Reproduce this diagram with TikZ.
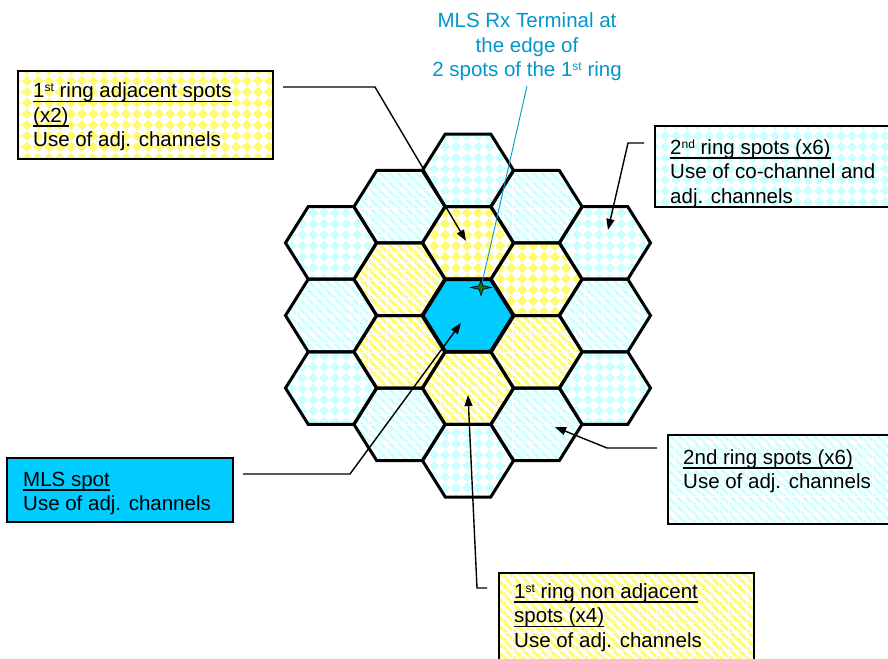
\documentclass[tikz,border=0pt]{standalone}
\usepackage{fontspec}
\setmainfont{Liberation Sans}
\usetikzlibrary{arrows.meta,patterns}

\definecolor{spotcyan}{RGB}{0,204,255}
\definecolor{palecyan}{RGB}{204,255,255}
\definecolor{paleyellow}{RGB}{255,250,110}
\definecolor{termblue}{RGB}{0,150,205}
\definecolor{stargreen}{RGB}{30,110,30}

% diagonal checkerboard (diamonds)
\pgfdeclarepatternformonly{diamonds}{\pgfqpoint{0pt}{0pt}}{\pgfqpoint{11pt}{11pt}}{\pgfqpoint{11pt}{11pt}}{%
  \pgfpathmoveto{\pgfqpoint{5.5pt}{0pt}}%
  \pgfpathlineto{\pgfqpoint{11pt}{5.5pt}}%
  \pgfpathlineto{\pgfqpoint{5.5pt}{11pt}}%
  \pgfpathlineto{\pgfqpoint{0pt}{5.5pt}}%
  \pgfpathclose
  \pgfusepath{fill}}
% wide stripes falling to the right
\pgfdeclarepatternformonly{slant}{\pgfqpoint{0pt}{0pt}}{\pgfqpoint{9pt}{9pt}}{\pgfqpoint{9pt}{9pt}}{%
  \pgfpathmoveto{\pgfqpoint{0pt}{0pt}}%
  \pgfpathlineto{\pgfqpoint{4.5pt}{0pt}}%
  \pgfpathlineto{\pgfqpoint{0pt}{4.5pt}}%
  \pgfpathclose
  \pgfpathmoveto{\pgfqpoint{9pt}{0pt}}%
  \pgfpathlineto{\pgfqpoint{9pt}{4.5pt}}%
  \pgfpathlineto{\pgfqpoint{4.5pt}{9pt}}%
  \pgfpathlineto{\pgfqpoint{0pt}{9pt}}%
  \pgfpathclose
  \pgfusepath{fill}}

\newcommand\myul[1]{\setbox0=\hbox{#1}\rlap{\rule[-4.5pt]{\wd0}{1.6pt}}\box0}
\newcommand\upidx[1]{\raisebox{6pt}{\fontsize{12}{12}\selectfont #1}}
\newcommand\firststrut{\rule{0pt}{17pt}}

\tikzset{
  ychk/.style={preaction={fill=white}, pattern=diamonds, pattern color=paleyellow},
  cchk/.style={preaction={fill=white}, pattern=diamonds, pattern color=palecyan},
  ystr/.style={preaction={fill=white}, pattern=slant, pattern color=paleyellow},
  cstr/.style={preaction={fill=white}, pattern=slant, pattern color=palecyan},
  mls/.style={fill=spotcyan},
  hexline/.style={draw=black, line width=3pt},
  infobox/.style={rectangle, draw=black, line width=1.5pt, inner sep=0pt, outer sep=0pt, anchor=north west},
  txt/.style={anchor=north west, inner sep=0pt, align=left, font=\fontsize{20.5}{24.5}\selectfont},
  conn/.style={draw=black, line width=1.4pt, -{Triangle[length=11pt,width=8pt]}},
}

\begin{document}
\begin{tikzpicture}[x=1pt, y=-1pt]
\useasboundingbox (0,0) rectangle (888,658);

% 19-spot hexagonal cluster: column / row offset / fill / name
\foreach \c/\r/\sty/\nm in {
   0/-2/cchk/hT, 0/-1/ychk/hN, 0/0/mls/hC, 0/1/ystr/hS, 0/2/cchk/hB,
   1/-1.5/cstr/hRa, 1/-0.5/ychk/hRb, 1/0.5/ystr/hRc, 1/1.5/cstr/hRd,
  -1/-1.5/cstr/hLa, -1/-0.5/ystr/hLb, -1/0.5/ystr/hLc, -1/1.5/cstr/hLd,
   2/-1/cchk/hRRa, 2/0/cstr/hRRb, 2/1/cchk/hRRc,
  -2/-1/cchk/hLLa, -2/0/cstr/hLLb, -2/1/cchk/hLLc}{
  \pgfmathsetmacro\hx{468+68.5*\c}
  \pgfmathsetmacro\hy{315.5+72.6*\r}
  \coordinate (\nm) at (\hx,\hy);
  \path[\sty, shift={(\hx,\hy)}] (-45.5,0) -- (-22.75,-36.3) -- (22.75,-36.3)
     -- (45.5,0) -- (22.75,36.3) -- (-22.75,36.3) -- cycle;
}
\foreach \nm in {hT,hN,hS,hB,hRa,hRb,hRc,hRd,hLa,hLb,hLc,hLd,hRRa,hRRb,hRRc,hLLa,hLLb,hLLc}{
  \draw[hexline, shift={(\nm)}] (-45.5,0) -- (-22.75,-36.3) -- (22.75,-36.3)
     -- (45.5,0) -- (22.75,36.3) -- (-22.75,36.3) -- cycle;
}
\draw[hexline, line width=3.8pt, shift={(hC)}] (-45.5,0) -- (-22.75,-36.3) -- (22.75,-36.3)
   -- (45.5,0) -- (22.75,36.3) -- (-22.75,36.3) -- cycle;

% legend boxes
\node[infobox, ychk, minimum width=255pt, minimum height=88pt] (b1) at (18,71) {};
\node[infobox, cchk, minimum width=245pt, minimum height=81pt] (b2) at (655,126) {};
\node[infobox, mls,  minimum width=226pt, minimum height=64pt] (b3) at (7,458) {};
\node[infobox, cstr, minimum width=235pt, minimum height=89pt] (b4) at (668,435) {};
\node[infobox, ystr, minimum width=255pt, minimum height=100pt] (b5) at (499,573) {};

\node[txt] (t1) at (33,80.7) {\firststrut\myul{1\upidx{st} ring adjacent spots}\\\myul{(x2)}\\Use of adj. channels};
\node[txt] (t2) at (670,137) {\firststrut\myul{2\upidx{nd} ring spots (x6)}\\Use of co-channel and\\adj. channels};
\node[txt] (t3) at (23,469) {\firststrut\myul{MLS spot}\\Use of adj. channels};
\node[txt] (t4) at (683,447) {\firststrut\myul{2nd ring spots (x6)}\\Use of adj. channels};
\node[txt] (t5) at (514,581) {\firststrut\myul{1\upidx{st} ring non adjacent}\\\myul{spots (x4)}\\Use of adj. channels};

% terminal callout
\node[txt, anchor=north, align=center, text=termblue] (term) at (527,10.5)
  {\firststrut MLS Rx Terminal at\\the edge of\\2 spots of the 1\upidx{st} ring};

% connectors
\draw[conn] ([shift={(10,16)}]b1.north east) -- ++(92,0) -- ([shift={(-2,-2)}]hN);
\draw[conn] ([shift={(-11,17)}]b2.north west) -- ++(-16,0) -- ([shift={(3,-13)}]hRRa);
\draw[conn] ([shift={(10,16)}]b3.north east) -- ++(107,0) -- ([shift={(-7,7.5)}]hC);
\draw[conn] ([shift={(-11,13)}]b4.north west) -- ++(-50,0) -- ([shift={(18.5,2.6)}]hRd);
\draw[conn] ([shift={(-12,15)}]b5.north west) -- ++(-10,0) -- ([shift={(0,7)}]hS);

% terminal position marker
\coordinate (rx) at (481,287.5);
\draw[termblue, line width=0.9pt] ([shift={(0,5)}]term.south) -- (rx);
\begin{scope}[shift={(rx)}]
  \filldraw[fill=stargreen, draw=black, line width=0.7pt]
    (-10,0) -- (-2,-1.8) -- (0,-7) -- (2,-1.8) -- (10,0) -- (2,1.8) -- (0,8) -- (-2,1.8) -- cycle;
\end{scope}
\end{tikzpicture}
\end{document}
